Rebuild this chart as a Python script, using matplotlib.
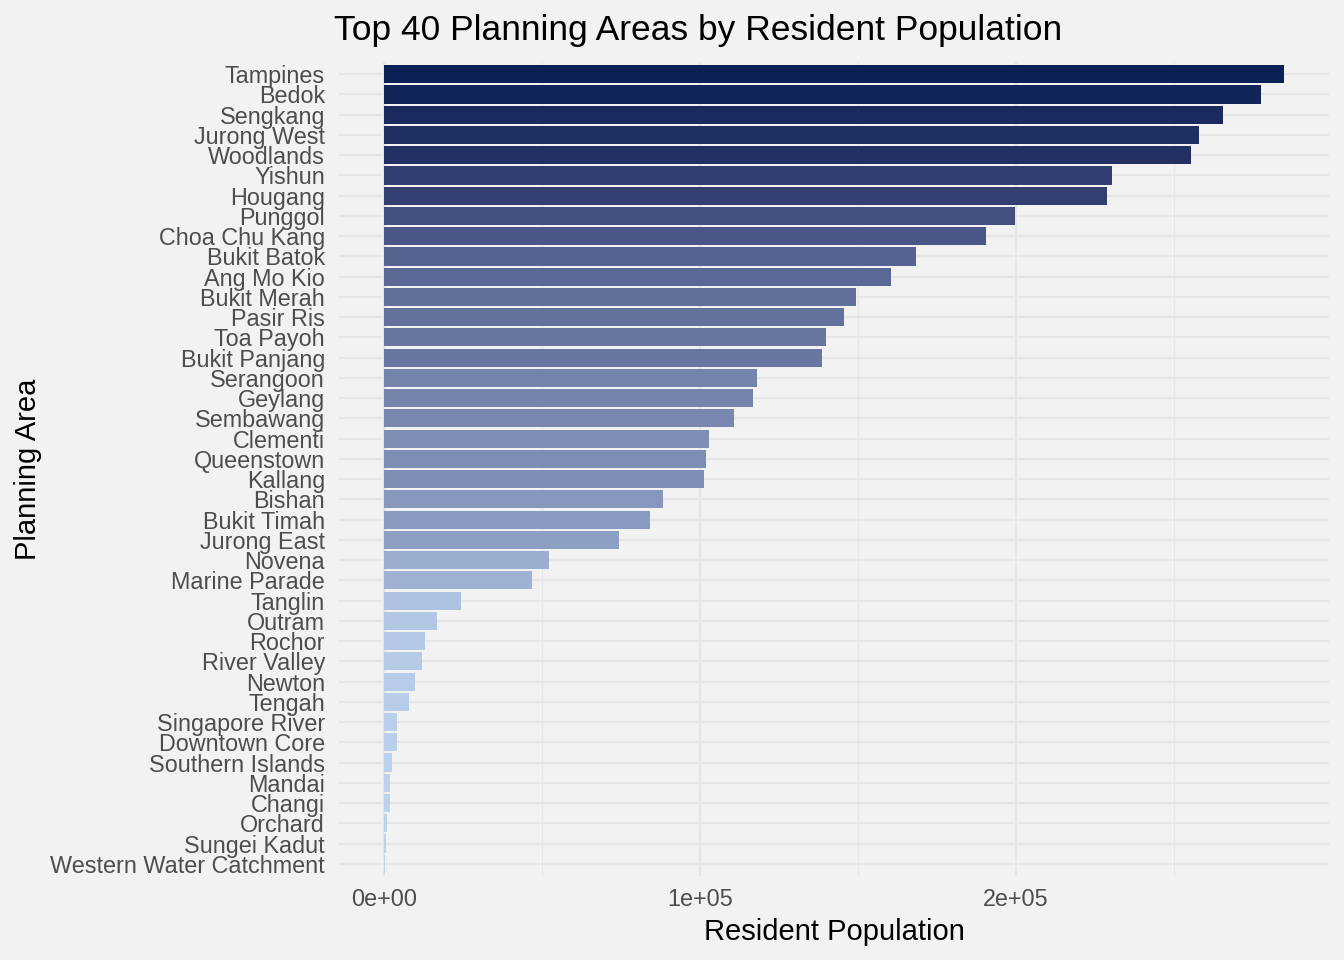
import numpy as np
import matplotlib
matplotlib.use("Agg")
import matplotlib.pyplot as plt
from matplotlib.ticker import FixedLocator

areas = ["Tampines", "Bedok", "Sengkang", "Jurong West", "Woodlands", "Yishun",
         "Hougang", "Punggol", "Choa Chu Kang", "Bukit Batok", "Ang Mo Kio",
         "Bukit Merah", "Pasir Ris", "Toa Payoh", "Bukit Panjang", "Serangoon",
         "Geylang", "Sembawang", "Clementi", "Queenstown", "Kallang", "Bishan",
         "Bukit Timah", "Jurong East", "Novena", "Marine Parade", "Tanglin",
         "Outram", "Rochor", "River Valley", "Newton", "Tengah",
         "Singapore River", "Downtown Core", "Southern Islands", "Mandai",
         "Changi", "Orchard", "Sungei Kadut", "Western Water Catchment"]
population = [284800, 277500, 265500, 257900, 255400, 230400,
              228800, 199700, 190500, 168400, 160400,
              149400, 145600, 139900, 138600, 118000,
              116800, 110800, 102800, 101900, 101300, 88300,
              84200, 74400, 52200, 46800, 24400,
              16800, 13000, 12000, 9800, 7900,
              4100, 4100, 2500, 1900,
              1900, 900, 600, 400]
major_ticks = [0, 100000, 200000]
major_labels = ["0e+00", "1e+05", "2e+05"]
minor_ticks = [50000, 150000, 250000]

LOW, HIGH = "#bcd2ee", "#0b2155"

# --- Lab colour interpolation (like ggplot's scale_fill_gradient) ---
def hex2rgb(h):
    h = h.lstrip("#")
    return np.array([int(h[i:i + 2], 16) / 255 for i in (0, 2, 4)])

def srgb2lin(c):
    return np.where(c <= 0.04045, c / 12.92, ((c + 0.055) / 1.055) ** 2.4)

def lin2srgb(c):
    c = np.clip(c, 0, 1)
    return np.where(c <= 0.0031308, 12.92 * c, 1.055 * c ** (1 / 2.4) - 0.055)

M = np.array([[0.4124, 0.3576, 0.1805],
              [0.2126, 0.7152, 0.0722],
              [0.0193, 0.1192, 0.9505]])
WHITE = np.array([0.95047, 1.0, 1.08883])

def f(t):
    d = 6 / 29
    return np.where(t > d ** 3, np.cbrt(t), t / (3 * d * d) + 4 / 29)

def finv(t):
    d = 6 / 29
    return np.where(t > d, t ** 3, 3 * d * d * (t - 4 / 29))

def rgb2lab(rgb):
    xyz = M @ srgb2lin(rgb) / WHITE
    fx, fy, fz = f(xyz)
    return np.array([116 * fy - 16, 500 * (fx - fy), 200 * (fy - fz)])

def lab2rgb(lab):
    L, a, b = lab
    fy = (L + 16) / 116
    fx = fy + a / 500
    fz = fy - b / 200
    xyz = np.array([finv(fx), finv(fy), finv(fz)]) * WHITE
    return lin2srgb(np.linalg.solve(M, xyz))

lab_lo, lab_hi = rgb2lab(hex2rgb(LOW)), rgb2lab(hex2rgb(HIGH))
vals = np.array(population, dtype=float)
tnorm = (vals - vals.min()) / (vals.max() - vals.min())
colors = [lab2rgb(lab_lo + t * (lab_hi - lab_lo)) for t in tnorm]

# --- figure ---
BG = "#f2f2f2"
GRID = "#e6e6e6"
plt.rcParams["font.family"] = ["Liberation Sans", "DejaVu Sans"]

fig = plt.figure(figsize=(13.44, 9.6), dpi=100, facecolor=BG)
ax = fig.add_axes([339 / 1344, 1 - 876 / 960, 990 / 1344, 814 / 960])
ax.set_facecolor(BG)

n = len(areas)
ypos = np.arange(n)[::-1]
ax.barh(ypos, population, height=0.9, color=colors, edgecolor="none", zorder=2)

xmax = max(population)
ax.set_xlim(-0.05 * xmax, 1.05 * xmax)
ax.set_ylim(-0.6, n - 1 + 0.6)

ax.set_yticks(ypos)
ax.set_yticklabels(areas)
ax.xaxis.set_major_locator(FixedLocator(major_ticks))
ax.set_xticklabels(major_labels)
ax.xaxis.set_minor_locator(FixedLocator(minor_ticks))

ax.grid(which="major", axis="both", color=GRID, linewidth=1.6, zorder=0)
ax.grid(which="minor", axis="x", color=GRID, linewidth=0.8, zorder=0)
ax.set_axisbelow(True)

for s in ax.spines.values():
    s.set_visible(False)
ax.tick_params(axis="both", which="both", length=0)
ax.tick_params(axis="y", labelsize=16.8, colors="#4d4d4d", pad=10)
ax.tick_params(axis="x", labelsize=16.8, colors="#4d4d4d", pad=9)

fig.text(334 / 1344, 1 - 40 / 960, "Top 40 Planning Areas by Resident Population",
         fontsize=25.5, color="black", ha="left", va="baseline")
fig.text(834 / 1344, 1 - 940 / 960, "Resident Population",
         fontsize=21, color="black", ha="center", va="baseline")
fig.text(28 / 1344, 469 / 960 * 0 + (1 - 469 / 960), "Planning Area",
         fontsize=21, color="black", ha="center", va="center", rotation=90)

fig.savefig("out.png", dpi=100, facecolor=BG)
